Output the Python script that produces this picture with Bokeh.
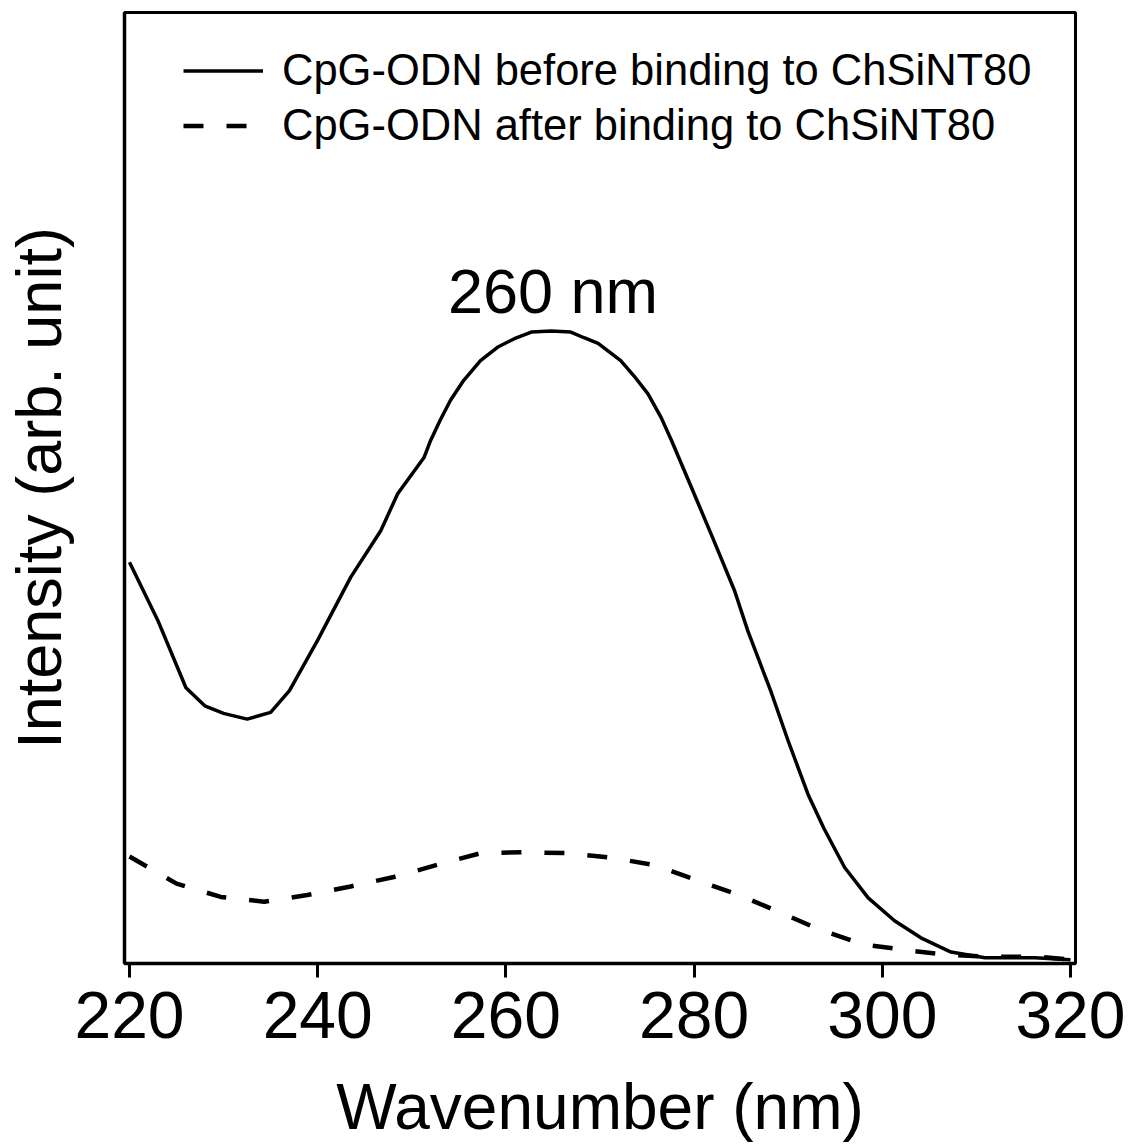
from bokeh.plotting import figure
from bokeh.models import FixedTicker, Label, Range1d
from bokeh.embed import file_html
from bokeh.resources import INLINE

# Wavelength (nm) and intensity (arb. unit)
before_wl = [220, 223, 226, 228, 230, 232.5, 235, 237, 240, 243.5, 246.7, 248.5,
             251.3, 252, 253, 254.1, 255.5, 257.3, 259.1, 260.9, 262.7, 264.8,
             266.9, 268.3, 269.8, 272.2, 273.6, 275.1, 276.5, 277.6, 280, 282,
             284.3, 285.7, 288.2, 290, 292.1, 293.8, 296, 298.5, 301.3, 304.1,
             307.3, 310.9, 316.2, 320]
before_int = [0.422, 0.361, 0.290, 0.271, 0.263, 0.257, 0.264, 0.287, 0.340, 0.406,
              0.455, 0.494, 0.532, 0.550, 0.571, 0.592, 0.613, 0.634, 0.648, 0.657,
              0.664, 0.665, 0.664, 0.658, 0.652, 0.634, 0.618, 0.599, 0.574, 0.550,
              0.494, 0.447, 0.392, 0.350, 0.285, 0.234, 0.178, 0.142, 0.101, 0.069,
              0.045, 0.027, 0.012, 0.006, 0.006, 0.004]

after_wl = [220, 225, 229.7, 234.3, 238.9, 243.5, 248.1, 252.8, 257.3, 262,
            266.7, 271.4, 276, 280.4, 284.8, 289.3, 293.5, 298, 302.6, 307,
            312, 316.7, 320]
after_int = [0.1125, 0.084, 0.070, 0.065, 0.072, 0.081, 0.091, 0.104, 0.116, 0.117,
             0.116, 0.111, 0.103, 0.087, 0.072, 0.053, 0.035, 0.020, 0.014, 0.009,
             0.007, 0.007, 0.004]

x_ticks = [220, 240, 260, 280, 300, 320]
label_before = "CpG-ODN before binding to ChSiNT80"
label_after = "CpG-ODN after binding to ChSiNT80"
peak_text = "260 nm"
peak_x = 265
peak_y = 0.707

FONT = "Liberation Sans"

p = figure(width=1125, height=1146, output_backend="svg", toolbar_location=None,
           x_range=Range1d(219.47, 320.53), y_range=Range1d(0, 1.0),
           min_border_left=124, min_border_right=50, min_border_top=12,
           min_border_bottom=183)

p.grid.visible = False
p.background_fill_color = "white"
p.border_fill_color = "white"
p.outline_line_color = "black"
p.outline_line_width = 3

r1 = p.line(before_wl, before_int, line_color="black", line_width=3.5,
            line_join="round", legend_label=label_before)
r2 = p.line(after_wl, after_int, line_color="black", line_width=4.5,
            line_dash="20 23", legend_label=label_after)

# x axis
xa = p.xaxis[0]
xa.ticker = FixedTicker(ticks=x_ticks)
xa.minor_tick_line_color = None
xa.major_tick_in = 0
xa.major_tick_out = 14
xa.major_tick_line_width = 3
xa.axis_line_width = 3.5
xa.major_label_text_font = FONT
xa.major_label_text_font_size = "66px"
xa.major_label_text_color = "black"
xa.major_label_standoff = 14
xa.axis_label = "Wavenumber (nm)"
xa.axis_label_text_font = FONT
xa.axis_label_text_font_size = "64px"
xa.axis_label_text_font_style = "normal"
xa.axis_label_text_color = "black"
xa.axis_label_standoff = 30

# y axis
ya = p.yaxis[0]
ya.ticker = FixedTicker(ticks=[])
ya.minor_tick_line_color = None
ya.major_tick_line_color = None
ya.axis_line_width = 3.5
ya.axis_label = "Intensity (arb. unit)"
ya.axis_label_text_font = FONT
ya.axis_label_text_font_size = "63px"
ya.axis_label_text_font_style = "normal"
ya.axis_label_text_color = "black"
ya.axis_label_standoff = 51

# annotation
p.add_layout(Label(x=peak_x, y=peak_y, text=peak_text, text_align="center",
                   text_baseline="alphabetic", text_font=FONT,
                   text_font_size="63px", text_color="black"))

# legend
lg = p.legend[0]
lg.location = (59, 810)
lg.border_line_color = None
lg.background_fill_alpha = 0
lg.padding = 0
lg.margin = 0
lg.spacing = 0
lg.glyph_width = 80
lg.glyph_height = 55
lg.label_height = 55
lg.label_standoff = 19
lg.label_text_font = FONT
lg.label_text_font_size = "43.5px"
lg.label_text_color = "black"

open("out.html", "w").write(file_html(p, INLINE))
